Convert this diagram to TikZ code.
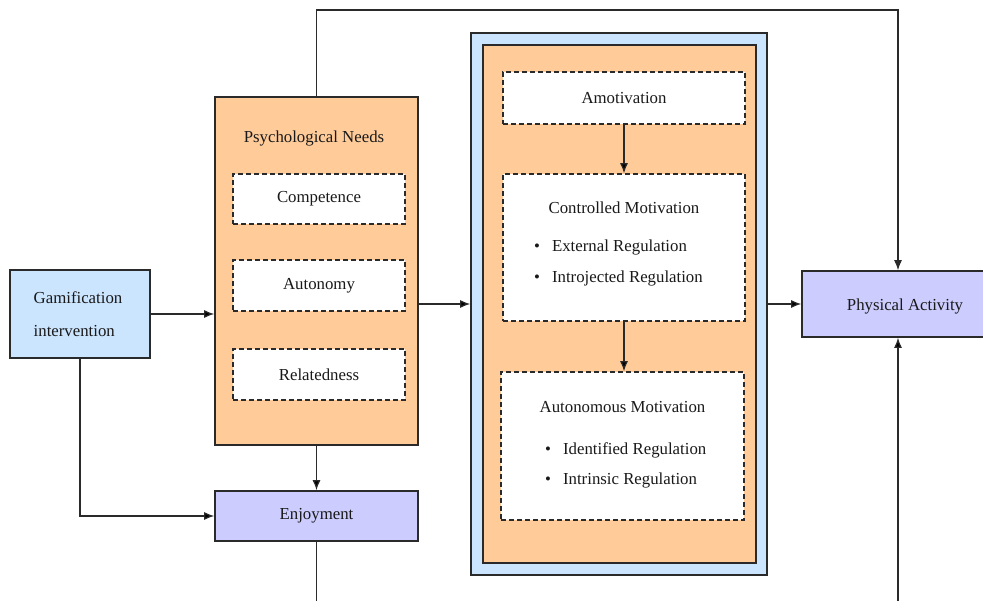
\documentclass[tikz,border=0pt]{standalone}
\usepackage{fontspec}
\setmainfont{Liberation Serif}
\usetikzlibrary{arrows.meta}
\definecolor{boxblue}{HTML}{CCE5FF}
\definecolor{boxorange}{HTML}{FFCC99}
\definecolor{boxlav}{HTML}{CCCCFF}
\definecolor{edge}{HTML}{2A2A2A}
\begin{document}
\begin{tikzpicture}[x=1pt,y=-1pt,>={Latex[length=10pt,width=8pt]},
    main box/.style={draw=edge,line width=1.6pt,minimum width=#1,inner sep=0pt},
    dash box/.style={draw=edge,fill=white,line width=1.5pt,dash pattern=on 5pt off 3pt,inner sep=0pt},
    label text/.style={font=\fontsize{16.8}{20}\selectfont,text=black!90,inner sep=0pt},
    link/.style={draw=edge,line width=1.2pt}]
    \clip (0,0) rectangle (983,601);
    \fill[white] (0,0) rectangle (983,601);

    % left column
    \node[main box=140pt,fill=boxblue,minimum height=88pt] (gam) at (80,314) {};
    \node[label text,align=left,font=\fontsize{16.8}{33}\selectfont] (gamtxt) at (78,314) {Gamification\\intervention};

    \node[main box=203pt,fill=boxorange,minimum height=348pt] (needs) at (316.5,271) {};
    \node[label text] (needstxt) at (314,138) {Psychological Needs};
    \node[dash box,minimum width=172pt,minimum height=50pt,label text] (comp) at (319,199) {Competence};
    \node[dash box,minimum width=172pt,minimum height=51pt,label text] (auto) at (319,285.5) {Autonomy};
    \node[dash box,minimum width=172pt,minimum height=51pt,label text] (rel) at (319,374.5) {Relatedness};

    \node[main box=203pt,fill=boxlav,minimum height=50pt,label text] (enj) at (316.5,516) {Enjoyment};

    % motivation column
    \node[main box=296pt,fill=boxblue,minimum height=542pt] (outer) at (619,304) {};
    \node[main box=273pt,fill=boxorange,minimum height=518pt] (inner) at (619.5,304) {};
    \node[dash box,minimum width=242pt,minimum height=52pt,label text] (amot) at (624,98) {Amotivation};

    \node[dash box,minimum width=242pt,minimum height=147pt] (ctrl) at (624,247.5) {};
    \node[label text] (ctrltxt) at (624,208) {Controlled Motivation};
    \node[label text,anchor=west] (ext) at (534,247) {\textbullet\hspace{12pt}External Regulation};
    \node[label text,anchor=west] (intro) at (534,278) {\textbullet\hspace{12pt}Introjected Regulation};

    \node[dash box,minimum width=243pt,minimum height=148pt] (autm) at (622.5,446) {};
    \node[label text] (autmtxt) at (622.5,407) {Autonomous Motivation};
    \node[label text,anchor=west] (ident) at (545,450) {\textbullet\hspace{12pt}Identified Regulation};
    \node[label text,anchor=west] (intr) at (545,480) {\textbullet\hspace{12pt}Intrinsic Regulation};

    % outcome
    \node[main box=206pt,fill=boxlav,minimum height=66pt] (pa) at (905,304) {};
    \node[label text] (patxt) at (905,306) {Physical Activity};

    \coordinate (top) at (898,10);
    \coordinate (bl) at (316.5,610);
    \coordinate (br) at (898,610);

    % connectors
    \path[link]
        (gam.east) edge[->] (gam.east -| needs.west)
        (gam.south) edge[->, to path={|- (\tikztotarget)}] (enj.west)
        (needs.south) edge[->] (enj.north)
        (outer.west -| needs.east) edge[->] (outer.west)
        (amot.south) edge[->] (ctrl.north)
        (ctrl.south) edge[->] (ctrl.south |- autm.north)
        (outer.east) edge[->] (pa.west)
        (enj.south) edge (bl)
        (br) edge[->] (br |- pa.south);
    \draw[link,->] (needs.north) |- (top) -- (top |- pa.north);
\end{tikzpicture}
\end{document}
